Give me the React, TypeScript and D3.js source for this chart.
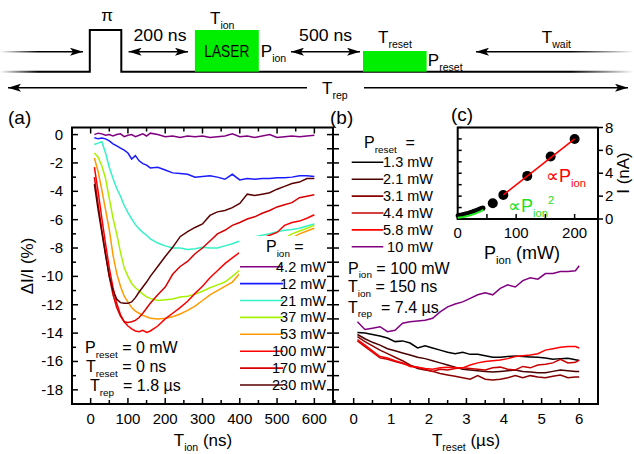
import React from "react"
import * as d3 from "d3"

const FONT = "'Liberation Sans', Arial, Helvetica, sans-serif"

// ---- (a) dI/I vs T_ion, P_reset = 0
const tIon = [10, 20, 30, 40, 50, 60, 70, 80, 90, 100, 110, 120, 130, 140, 150, 160, 180, 200, 220, 240, 260, 280, 300, 320, 340, 360, 380, 400, 420, 440, 460, 480, 500, 520, 540, 560, 580, 600]
const pIonLabels = ["4.2 mW", "12 mW", "21 mW", "37 mW", "53 mW", "100 mW", "170 mW", "230 mW"]
const pIonColors = ["#800080", "#1a1aff", "#33f2c6", "#a8f200", "#ff9a00", "#ff0000", "#d80000", "#5a0000"]
const dI_4_2 = [0.0, 0.1, 0.05, -0.05, 0.0, -0.1, 0.0, 0.05, -0.15, -0.05, 0.0, -0.15, -0.05, 0.05, -0.1, 0.1, 0.0, -0.15, -0.1, -0.2, -0.1, -0.15, -0.1, -0.2, -0.15, -0.1, 0.05, -0.15, -0.1, -0.2, -0.1, 0.0, -0.2, -0.15, -0.1, -0.15, -0.1, -0.05]
const dI_12 = [-0.22, -0.3, -0.25, -0.3, -0.45, -0.65, -0.8, -0.95, -1.1, -1.3, -1.72, -1.48, -1.85, -2.05, -2.15, -2.35, -2.3, -2.5, -2.7, -2.75, -2.8, -3.0, -2.95, -2.9, -3.0, -3.15, -2.8, -3.2, -3.1, -3.15, -3.1, -3.1, -3.05, -3.05, -3.0, -2.9, -2.9, -2.95]
const dI_21 = [-0.7, -0.6, -0.5, -1.3, -2.3, -3.1, -3.8, -4.35, -5.0, -5.5, -5.95, -6.35, -6.65, -6.9, -7.1, -7.35, -7.65, -7.85, -8.0, -8.0, -8.1, -8.05, -7.95, -8.0, -8.0, -7.85, -7.7, -7.5, -7.4, -7.2, -7.1, -7.0, -6.85, -6.75, -6.7, -6.6, -6.45, -6.3]
const dI_37 = [-1.3, -1.6, -2.2, -3.1, -4.5, -5.9, -7.0, -8.3, -9.4, -10.0, -10.5, -10.8, -11.0, -11.25, -11.45, -11.55, -11.7, -11.65, -11.6, -11.45, -11.4, -11.25, -11.05, -10.8, -10.6, -10.4, -10.0, -9.55, -9.1, -8.7, -8.3, -7.9, -7.6, -7.3, -7.0, -6.8, -6.6, -6.4]
const dI_53 = [-1.65, -2.6, -3.9, -5.3, -6.7, -8.5, -9.8, -10.7, -11.4, -11.8, -12.2, -12.45, -12.6, -12.75, -12.85, -12.95, -13.0, -12.95, -12.85, -12.65, -12.4, -12.1, -11.7, -11.3, -11.0, -10.7, -10.4, -9.8, -9.4, -9.0, -8.6, -8.2, -7.9, -7.6, -7.3, -7.0, -6.8, -6.6]
const dI_100 = [-2.3, -4.0, -5.9, -7.7, -9.4, -10.8, -11.9, -12.7, -13.2, -13.5, -13.7, -13.85, -13.9, -13.8, -13.95, -13.85, -13.5, -13.0, -12.6, -12.2, -11.75, -11.2, -10.7, -10.1, -9.6, -9.1, -8.7, -8.3, -7.9, -7.6, -7.3, -7.1, -6.9, -6.4, -6.2, -6.1, -5.9, -5.65]
const dI_170 = [-3.0, -4.9, -6.7, -8.4, -10.0, -11.3, -12.2, -12.8, -13.2, -13.25, -13.2, -13.1, -12.9, -12.6, -12.25, -11.9, -11.3, -10.75, -9.85, -9.3, -8.95, -8.4, -8.0, -7.5, -7.0, -6.75, -6.4, -6.2, -5.95, -5.8, -5.55, -5.35, -5.1, -4.95, -4.8, -4.45, -4.35, -4.25]
const dI_230 = [-3.5, -5.3, -6.9, -8.5, -10.0, -11.0, -11.6, -11.85, -11.9, -11.9, -11.8, -11.5, -11.1, -10.75, -10.4, -10.0, -9.3, -8.6, -7.95, -7.2, -6.85, -6.55, -6.3, -5.7, -5.45, -5.35, -5.15, -4.85, -4.2, -4.3, -4.2, -4.1, -3.85, -3.65, -3.45, -3.35, -3.1, -3.1]
const seriesA = [dI_4_2, dI_12, dI_21, dI_37, dI_53, dI_100, dI_170, dI_230]

// ---- (b) dI/I vs T_reset, P_ion = 100 mW
const tReset = [0.1, 0.3, 0.5, 0.7, 0.9, 1.1, 1.3, 1.5, 1.7, 1.9, 2.1, 2.3, 2.5, 2.7, 2.9, 3.1, 3.3, 3.5, 3.7, 3.9, 4.1, 4.3, 4.5, 4.7, 4.9, 5.1, 5.3, 5.5, 5.7, 5.9, 6.0]
const pResetLabels = ["1.3 mW", "2.1 mW", "3.1 mW", "4.4 mW", "5.8 mW", "10 mW"]
const pResetColors = ["#000000", "#4a0000", "#880000", "#c80000", "#ff0000", "#800080"]
const dR_1_3 = [-13.95, -14.0, -14.1, -14.2, -14.35, -14.6, -14.55, -14.7, -15.05, -14.9, -15.05, -15.2, -15.35, -15.45, -15.35, -15.5, -15.5, -15.6, -15.7, -15.7, -15.65, -15.62, -15.65, -15.68, -15.7, -15.75, -15.85, -15.8, -15.78, -15.88, -15.93]
const dR_2_1 = [-14.1, -14.4, -14.65, -14.85, -15.1, -15.25, -15.4, -15.55, -15.7, -15.8, -15.95, -16.1, -16.25, -16.4, -16.55, -16.6, -16.65, -16.7, -16.75, -16.7, -16.65, -16.6, -16.7, -16.75, -16.8, -16.8, -16.7, -16.6, -16.65, -16.7, -16.7]
const dR_3_1 = [-14.25, -14.6, -14.9, -15.2, -15.45, -15.7, -15.95, -16.25, -16.5, -16.6, -16.7, -16.85, -16.95, -17.05, -17.15, -17.25, -17.0, -17.25, -17.3, -17.25, -17.15, -17.0, -17.15, -17.0, -17.1, -17.15, -17.05, -16.95, -17.15, -17.1, -17.1]
const dR_4_4 = [-14.55, -14.95, -15.35, -15.75, -15.85, -16.0, -16.15, -16.3, -16.4, -16.55, -16.7, -16.55, -16.6, -16.5, -16.45, -16.5, -16.55, -16.6, -16.45, -16.4, -16.55, -16.6, -16.35, -16.45, -16.25, -16.2, -16.1, -15.85, -16.1, -16.05, -15.9]
const dR_5_8 = [-14.45, -14.85, -15.25, -15.65, -15.75, -15.95, -16.1, -16.35, -16.4, -16.5, -16.55, -16.45, -16.4, -16.45, -16.45, -16.25, -16.1, -16.0, -15.95, -15.9, -15.8, -15.65, -15.6, -15.55, -15.45, -15.2, -15.1, -15.0, -14.95, -14.95, -15.05]
const dR_10 = [-13.2, -13.75, -13.65, -13.55, -13.9, -13.8, -13.3, -13.2, -13.15, -13.1, -12.95, -12.5, -12.15, -11.95, -11.8, -11.55, -11.3, -11.15, -11.3, -10.85, -10.6, -10.75, -10.3, -10.1, -10.2, -9.8, -9.8, -9.65, -9.65, -9.6, -9.25]
const seriesB = [dR_1_3, dR_2_1, dR_3_1, dR_4_4, dR_5_8, dR_10]

// ---- (c) I vs P_ion
const pLow = [1, 4, 7, 10, 13, 16, 19, 22, 25, 28, 31, 34, 37, 40, 43]
const iLow = [0.3, 0.32, 0.35, 0.38, 0.42, 0.46, 0.5, 0.55, 0.6, 0.66, 0.72, 0.78, 0.85, 0.92, 0.95]
const pHigh = [60, 78, 119, 159, 200]
const iHigh = [1.38, 2.1, 3.77, 5.47, 7.0]
const pQuad = [0, 10, 20, 30, 40, 44]
const iQuad = [0.1, 0.18, 0.3, 0.47, 0.68, 0.8]
const pLin = [78, 200]
const iLin = [2.1, 7.0]

type Part = { t: string; s?: "sub" | "sup" }

function Rich(props: { x: number; y: number; parts: Part[]; size: number; anchor?: string; fill?: string; transform?: string }) {
  const { x, y, parts, size, anchor = "start", fill = "#000", transform } = props
  let shift = 0
  return (
    <text x={x} y={y} fontSize={size} textAnchor={anchor} fill={fill} transform={transform} style={{ whiteSpace: "pre" }}>
      {parts.map((p, i) => {
        const target = p.s === "sub" ? size * 0.3 : p.s === "sup" ? -size * 0.42 : 0
        const dy = target - shift
        shift = target
        return (
          <tspan key={i} dy={dy} fontSize={p.s ? size * 0.62 : size}>
            {p.t}
          </tspan>
        )
      })}
    </text>
  )
}

export default function App() {
  const xA = d3.scaleLinear().domain([-50, 650]).range([72, 333])
  const yA = d3.scaleLinear().domain([-19, 0.5]).range([404, 127.5])
  const xB = d3.scaleLinear().domain([-0.55, 6.5]).range([333, 598])
  const xC = d3.scaleLinear().domain([0, 240]).range([457.7, 598])
  const yC = d3.scaleLinear().domain([0, 8]).range([219, 127.5])

  const lineA = d3.line<number>().x((_, i) => xA(tIon[i])).y(d => yA(d))
  const lineB = d3.line<number>().x((_, i) => xB(tReset[i])).y(d => yA(d))
  const lineC = d3.line<[number, number]>().x(d => xC(d[0])).y(d => yC(d[1]))

  const top = 127.5, bot = 404

  return (
    <svg width={634} height={454} style={{ position: "absolute", left: 0, top: 0, background: "#fff" }} fontFamily={FONT}>
      <defs>
        <linearGradient id="fade" gradientUnits="userSpaceOnUse" x1="0" y1="0" x2="634" y2="0">
          <stop offset="0" stopColor="#fff" />
          <stop offset="0.06" stopColor="#000" />
          <stop offset="0.9" stopColor="#000" />
          <stop offset="1" stopColor="#fff" />
        </linearGradient>
        <marker id="ah" markerUnits="userSpaceOnUse" viewBox="0 0 13 8" refX="13" refY="4" markerWidth="13" markerHeight="8" orient="auto-start-reverse">
          <path d="M0,0 L13,4 L0,8 L3,4 Z" fill="#000" />
        </marker>
      </defs>

      {/* pulse sequence */}
      <path d="M0,71.7 H89.8 V30 H121.3 V71.7 H634" stroke="url(#fade)" strokeWidth={2} fill="none" />
      <rect x={194.9} y={30} width={63.9} height={41.7} fill="#00ee00" />
      <rect x={363} y={51} width={63.6} height={20.7} fill="#00ee00" />
      <line x1={0} x2={83} y1={51.7} y2={51.7} stroke="url(#fade)" strokeWidth={1.6} markerEnd="url(#ah)" />
      <line x1={128.6} x2={188} y1={51.7} y2={51.7} stroke="#000" strokeWidth={1.6} markerStart="url(#ah)" markerEnd="url(#ah)" />
      <line x1={291} x2={360} y1={51.7} y2={51.7} stroke="#000" strokeWidth={1.6} markerStart="url(#ah)" markerEnd="url(#ah)" />
      <line x1={634} x2={476} y1={51.7} y2={51.7} stroke="url(#fade)" strokeWidth={1.6} markerEnd="url(#ah)" />
      <line x1={8} x2={307} y1={87.7} y2={87.7} stroke="#000" strokeWidth={1.6} markerStart="url(#ah)" />
      <line x1={364} x2={628} y1={87.7} y2={87.7} stroke="#000" strokeWidth={1.6} markerEnd="url(#ah)" />
      <text x={107} y={21} fontSize={17} textAnchor="middle">π</text>
      <text x={160} y={41} fontSize={16.5} textAnchor="middle" textLength={53} lengthAdjust="spacingAndGlyphs">200 ns</text>
      <text x={325.6} y={41} fontSize={16.5} textAnchor="middle" textLength={53} lengthAdjust="spacingAndGlyphs">500 ns</text>
      <text x={226.8} y={56.5} fontSize={16.5} textAnchor="middle" textLength={45} lengthAdjust="spacingAndGlyphs">LASER</text>
      <Rich x={210} y={23.5} size={17} parts={[{ t: "T" }, { t: "ion", s: "sub" }]} />
      <Rich x={260.8} y={57} size={17} parts={[{ t: "P" }, { t: "ion", s: "sub" }]} />
      <Rich x={378} y={42.7} size={17} parts={[{ t: "T" }, { t: "reset", s: "sub" }]} />
      <Rich x={427.8} y={66} size={17} parts={[{ t: "P" }, { t: "reset", s: "sub" }]} />
      <Rich x={541.8} y={42.7} size={17} parts={[{ t: "T" }, { t: "wait", s: "sub" }]} />
      <Rich x={322} y={94} size={17} parts={[{ t: "T" }, { t: "rep", s: "sub" }]} />

      {/* panel labels */}
      <text x={8} y={124} fontSize={19}>(a)</text>
      <text x={330} y={124} fontSize={19}>(b)</text>
      <text x={451} y={120.5} fontSize={19}>(c)</text>

      {/* (a) curves */}
      {seriesA.map((s, i) => (
        <path key={i} d={lineA(s) || ""} fill="none" stroke={pIonColors[i]} strokeWidth={1.5} />
      ))}
      <rect x={239} y={236} width={93} height={167} fill="#fff" />

      {/* (b) curves */}
      {seriesB.map((s, i) => (
        <path key={i} d={lineB(s) || ""} fill="none" stroke={pResetColors[i]} strokeWidth={1.5} />
      ))}

      {/* frames */}
      <g stroke="#000" strokeWidth={2} fill="none">
        <path d={`M72,${bot} V${top} H333 V${bot}`} />
        <line x1={71} x2={599} y1={bot} y2={bot} />
        <line x1={598} x2={598} y1={top} y2={bot} />
      </g>

      {/* (a)/(b) ticks */}
      <g stroke="#000" strokeWidth={1.5}>
        {d3.range(-19, 0.5, 1).map(v => (
          <g key={v}>
            <line x1={72} x2={72 + (v % 2 === 0 ? 6 : 4)} y1={yA(v)} y2={yA(v)} />
            <line x1={327} x2={339} y1={yA(v)} y2={yA(v)} />
          </g>
        ))}
        {d3.range(-50, 651, 50).map(v => (
          <g key={v}>
            <line x1={xA(v)} x2={xA(v)} y1={top} y2={top + (v % 100 === 0 ? 6 : 4)} />
            <line x1={xA(v)} x2={xA(v)} y1={bot} y2={bot - (v % 100 === 0 ? 6 : 4)} />
          </g>
        ))}
        {d3.range(-0.5, 6.51, 0.5).map(v => (
          <line key={v} x1={xB(v)} x2={xB(v)} y1={bot} y2={bot - (v % 1 === 0 ? 6 : 4)} />
        ))}
      </g>
      <g fontSize={15}>
        {d3.range(-18, 0.5, 2).map(v => (
          <text key={v} x={63} y={yA(v) + 5} textAnchor="end">{v}</text>
        ))}
        {d3.range(0, 601, 100).map(v => (
          <text key={v} x={xA(v)} y={423.5} textAnchor="middle">{v}</text>
        ))}
        {d3.range(0, 6.5, 1).map(v => (
          <text key={v} x={xB(v)} y={423.5} textAnchor="middle">{v}</text>
        ))}
      </g>
      <Rich x={203} y={446} size={17} anchor="middle" parts={[{ t: "T" }, { t: "ion", s: "sub" }, { t: " (ns)" }]} />
      <Rich x={466} y={446} size={17} anchor="middle" parts={[{ t: "T" }, { t: "reset", s: "sub" }, { t: " (µs)" }]} />
      <text x={33} y={266} fontSize={17} textAnchor="middle" transform="rotate(-90 33 266)">ΔI/I (%)</text>

      {/* (a) legend + notes */}
      <Rich x={266} y={252} size={16} parts={[{ t: "P" }, { t: "ion", s: "sub" }, { t: " =" }]} />
      {pIonLabels.map((l, i) => {
        const cy = 266.7 + i * 16.9
        return (
          <g key={l}>
            <line x1={240} x2={283} y1={cy} y2={cy} stroke={pIonColors[i]} strokeWidth={1.6} />
            <text x={326} y={cy + 5} fontSize={14.5} textAnchor="end">{l}</text>
          </g>
        )
      })}
      <Rich x={85} y={353} size={16} parts={[{ t: "P" }, { t: "reset", s: "sub" }, { t: " = 0 mW" }]} />
      <Rich x={86} y={372} size={16} parts={[{ t: "T" }, { t: "reset", s: "sub" }, { t: " = 0 ns" }]} />
      <Rich x={90} y={391} size={16} parts={[{ t: "T" }, { t: "rep", s: "sub" }, { t: "  = 1.8 µs" }]} />

      {/* (b) legend + notes */}
      <Rich x={364} y={148} size={16} parts={[{ t: "P" }, { t: "reset", s: "sub" }, { t: "  =" }]} />
      {pResetLabels.map((l, i) => {
        const cy = 162.3 + i * 16.9
        return (
          <g key={l}>
            <line x1={351.7} x2={383.3} y1={cy} y2={cy} stroke={pResetColors[i]} strokeWidth={1.6} />
            <text x={433} y={cy + 5} fontSize={14.5} textAnchor="end">{l}</text>
          </g>
        )
      })}
      <Rich x={348} y={273.5} size={16} parts={[{ t: "P" }, { t: "ion", s: "sub" }, { t: " = 100 mW" }]} />
      <Rich x={348} y={292} size={16} parts={[{ t: "T" }, { t: "ion", s: "sub" }, { t: " = 150 ns" }]} />
      <Rich x={348} y={312.5} size={16} parts={[{ t: "T" }, { t: "rep", s: "sub" }, { t: "  = 7.4 µs" }]} />

      {/* (c) inset */}
      <g stroke="#000" fill="none">
        <path d={`M${xC(0)},${yC(0)} V${top} H598`} strokeWidth={2} />
        <line x1={xC(0) - 1} x2={598} y1={yC(0)} y2={yC(0)} strokeWidth={2} />
        {d3.range(0, 8.1, 1).map(v => (
          <line key={"l" + v} x1={xC(0)} x2={xC(0) + 4} y1={yC(v)} y2={yC(v)} strokeWidth={1.5} />
        ))}
        {d3.range(0, 8.1, 2).map(v => (
          <line key={"r" + v} x1={598} x2={603} y1={yC(v)} y2={yC(v)} strokeWidth={1.5} />
        ))}
        {d3.range(0, 240, 50).map(v => (
          <line key={"b" + v} x1={xC(v)} x2={xC(v)} y1={yC(0)} y2={yC(0) - 5} strokeWidth={1.5} />
        ))}
      </g>
      {pLow.map((p, i) => (
        <circle key={"s" + i} cx={xC(p)} cy={yC(iLow[i])} r={2.6} fill="#000" />
      ))}
      <path d={lineC(pQuad.map((p, i) => [p, iQuad[i]] as [number, number])) || ""} fill="none" stroke="#22ee22" strokeWidth={2} />
      {pHigh.map((p, i) => (
        <circle key={"h" + i} cx={xC(p)} cy={yC(iHigh[i])} r={5} fill="#000" />
      ))}
      <path d={lineC(pLin.map((p, i) => [p, iLin[i]] as [number, number])) || ""} fill="none" stroke="#ff0000" strokeWidth={1.6} />
      <g fontSize={15}>
        {[0, 100, 200].map(v => (
          <text key={v} x={xC(v)} y={238} textAnchor="middle">{v}</text>
        ))}
        {d3.range(0, 8.1, 2).map(v => (
          <text key={v} x={605} y={yC(v) + 5}>{v}</text>
        ))}
      </g>
      <Rich x={522} y={259} size={18} anchor="middle" parts={[{ t: "P" }, { t: "ion", s: "sub" }, { t: " (mW)" }]} />
      <text x={629} y={173} fontSize={17} textAnchor="middle" transform="rotate(-90 629 173)">I (nA)</text>
      <Rich x={546} y={182} size={18} fill="#ff0000" parts={[{ t: "∝P" }, { t: "ion", s: "sub" }]} />
      <Rich x={508} y={212} size={18} fill="#22dd22" parts={[{ t: "∝P" }, { t: "ion", s: "sub" }, { t: "2", s: "sup" }]} />
    </svg>
  )
}
